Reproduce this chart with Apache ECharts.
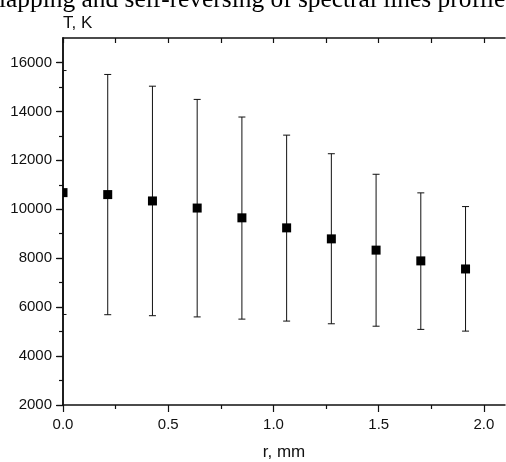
<!DOCTYPE html>
<html>
<head>
<meta charset="utf-8">
<script src="https://cdn.jsdelivr.net/npm/echarts@6/dist/echarts.min.js"></script>
<style>
  html, body { margin: 0; padding: 0; background: #fff; }
  #chart { width: 506px; height: 462px; }
</style>
</head>
<body>
<div id="chart"></div>
<script>
// radius (mm) and temperature (K) with error limits
const rValues = [0, 0.2125, 0.425, 0.6375, 0.85, 1.0625, 1.275, 1.4875, 1.7, 1.9125];
const tValues = [10680, 10600, 10340, 10050, 9650, 9240, 8790, 8330, 7890, 7560];
const tLow = [5700, 5690, 5650, 5600, 5510, 5430, 5320, 5220, 5090, 5020];
const tHigh = [15670, 15510, 15030, 14490, 13770, 13030, 12270, 11430, 10670, 10110];

const xTicks = [0, 0.5, 1.0, 1.5, 2.0];
const xTopTicks = [0, 0.25, 0.5, 0.75, 1.0, 1.25, 1.5, 1.75, 2.0];
const yTicks = [2000, 4000, 6000, 8000, 10000, 12000, 14000, 16000];

const titleText = 'lapping and self-reversing of spectral lines profiles';

const rows = rValues.map((r, i) => [r, tValues[i], tLow[i], tHigh[i]]);

const chart = echarts.init(document.getElementById('chart'));

const axisColor = '#111';
const fontFamily = 'Liberation Sans';

function renderErrorBar(params, api) {
  const x = api.value(0);
  const top = api.coord([x, api.value(3)]);
  const bottom = api.coord([x, api.value(2)]);
  const cs = params.coordSys;
  const half = 3.5;
  const left = Math.max(top[0] - half, cs.x);
  const right = Math.min(top[0] + half, cs.x + cs.width);
  const style = { stroke: '#111', lineWidth: 1 };
  return {
    type: 'group',
    children: [
      { type: 'line', shape: { x1: top[0], y1: top[1], x2: bottom[0], y2: bottom[1] }, style },
      { type: 'line', shape: { x1: left, y1: top[1], x2: right, y2: top[1] }, style },
      { type: 'line', shape: { x1: left, y1: bottom[1], x2: right, y2: bottom[1] }, style },
    ],
  };
}

function renderMarker(params, api) {
  const p = api.coord([api.value(0), api.value(1)]);
  const s = 9;
  const shape = echarts.graphic.clipRectByRect(
    { x: p[0] - s / 2, y: p[1] - s / 2, width: s, height: s },
    params.coordSys
  );
  if (!shape) return null;
  return { type: 'rect', shape, style: { fill: '#000' } };
}

const option = {
  backgroundColor: '#fff',
  animation: false,
  grid: { left: 63, right: 1, top: 38, bottom: 57, containLabel: false, outerBoundsMode: 'none' },
  graphic: [
    {
      type: 'text',
      left: -1,
      top: -12,
      style: {
        text: titleText,
        font: '25.4px "Liberation Serif"',
        fill: '#000',
      },
    },
  ],
  xAxis: [
    {
      type: 'value',
      position: 'bottom',
      min: 0,
      max: 2.1,
      interval: 0.5,
      name: 'r, mm',
      nameLocation: 'middle',
      nameGap: 39,
      nameTextStyle: { color: '#111', fontSize: 17, fontFamily },
      axisLine: { lineStyle: { color: axisColor, width: 1.5 } },
      axisTick: { show: true, inside: false, length: 7, customValues: xTicks, lineStyle: { color: axisColor, width: 1.2 } },
      minorTick: { show: true, splitNumber: 2, length: 4, lineStyle: { color: axisColor, width: 1.2 } },
      axisLabel: { color: '#111', fontSize: 15, fontFamily, margin: 12, customValues: xTicks, formatter: (v) => v.toFixed(1) },
      splitLine: { show: false },
    },
    {
      type: 'value',
      position: 'top',
      min: 0,
      max: 2.1,
      interval: 0.25,
      axisLine: { lineStyle: { color: axisColor, width: 1.5 } },
      axisTick: { show: true, inside: true, length: 5, customValues: xTopTicks, lineStyle: { color: axisColor, width: 1.2 } },
      axisLabel: { show: false },
      splitLine: { show: false },
    },
  ],
  yAxis: [
    {
      type: 'value',
      position: 'left',
      min: 2000,
      max: 17000,
      interval: 2000,
      name: 'T, K',
      nameLocation: 'end',
      nameGap: 6,
      nameTextStyle: { color: '#111', fontSize: 17, fontFamily, align: 'left' },
      axisLine: { show: true, lineStyle: { color: axisColor, width: 1.5 } },
      axisTick: { show: true, inside: false, length: 7, customValues: yTicks, lineStyle: { color: axisColor, width: 1.2 } },
      minorTick: { show: true, splitNumber: 2, length: 4, lineStyle: { color: axisColor, width: 1.2 } },
      axisLabel: { color: '#111', fontSize: 15, fontFamily, margin: 11, customValues: yTicks, formatter: (v) => String(v) },
      splitLine: { show: false },
    },
    {
      type: 'value',
      position: 'right',
      min: 2000,
      max: 17000,
      interval: 2000,
      axisLine: { show: true, lineStyle: { color: axisColor, width: 1.5 } },
      axisTick: { show: true, inside: true, length: 6, customValues: yTicks, lineStyle: { color: axisColor, width: 1.2 } },
      axisLabel: { show: false },
      splitLine: { show: false },
    },
  ],
  series: [
    {
      type: 'custom',
      xAxisIndex: 0,
      yAxisIndex: 0,
      renderItem: renderErrorBar,
      encode: { x: 0, y: [1, 2, 3] },
      data: rows,
      z: 3,
    },
    {
      type: 'custom',
      xAxisIndex: 0,
      yAxisIndex: 0,
      renderItem: renderMarker,
      encode: { x: 0, y: 1 },
      data: rows,
      z: 4,
    },
  ],
};

chart.setOption(option);
</script>
</body>
</html>
